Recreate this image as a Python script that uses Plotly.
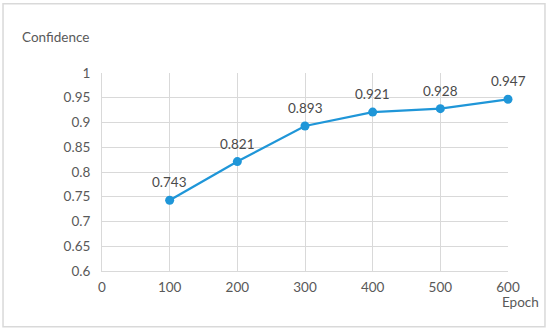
import plotly.graph_objects as go

epochs = [100, 200, 300, 400, 500, 600]
confidence = [0.743, 0.821, 0.893, 0.921, 0.928, 0.947]
labels = ["0.743", "0.821", "0.893", "0.921", "0.928", "0.947"]
y_ticks = [0.6, 0.65, 0.7, 0.75, 0.8, 0.85, 0.9, 0.95, 1]
y_tick_text = ["0.6", "0.65", "0.7", "0.75", "0.8", "0.85", "0.9", "0.95", "1"]
x_ticks = [0, 100, 200, 300, 400, 500, 600]

txt = "#595959"
grid = "#d9d9d9"
font_family = "Lato, Open Sans, sans-serif"

fig = go.Figure()
fig.add_trace(go.Scatter(
    x=epochs, y=confidence, mode="lines+markers",
    line=dict(color="#1f96d8", width=2.25),
    marker=dict(color="#1f96d8", size=9),
    cliponaxis=False, showlegend=False, hoverinfo="skip",
))

point_labels = [
    dict(text=t, x=xv, y=yv, xref="x", yref="y", showarrow=False,
         xanchor="center", yanchor="middle", yshift=18,
         font=dict(size=13.5, color="#4a4a4a"))
    for xv, yv, t in zip(epochs, confidence, labels)
]

fig.update_layout(
    width=550, height=333,
    margin=dict(l=102, r=42, t=73, b=62),
    paper_bgcolor="white", plot_bgcolor="white",
    font=dict(family=font_family, size=13.5, color=txt),
    xaxis=dict(range=[0, 600], tickvals=x_ticks, showgrid=True, gridcolor=grid, gridwidth=1,
               showline=True, linecolor=grid, linewidth=1, zeroline=False, mirror=False,
               ticks="outside", ticklen=4, tickcolor="rgba(0,0,0,0)", automargin=False,
               tickfont=dict(size=13.5, color=txt)),
    yaxis=dict(range=[0.6, 1], tickvals=y_ticks, ticktext=y_tick_text, showgrid=True,
               gridcolor=grid, gridwidth=1, showline=True, linecolor=grid, linewidth=1,
               zeroline=False, ticks="outside", ticklen=8, tickcolor="rgba(0,0,0,0)",
               automargin=False, tickfont=dict(size=13.5, color=txt)),
    annotations=point_labels + [
        dict(text="Confidence", x=-0.202, y=1.181, xref="paper", yref="paper",
             xanchor="left", yanchor="middle", showarrow=False,
             font=dict(size=13.5, color=txt)),
        dict(text="Epoch", x=0.980, y=-0.158, xref="paper", yref="paper",
             xanchor="left", yanchor="middle", showarrow=False,
             font=dict(size=13.5, color=txt)),
    ],
    shapes=[
        dict(type="rect", xref="paper", yref="paper", x0=-0.2438, x1=1.0911,
             y0=-0.2821, y1=1.350, line=dict(color="#d9d9d9", width=1.5)),
    ],
)

fig.write_html("out.html", config={"displayModeBar": False},
               post_script="document.body.style.margin='0';")
